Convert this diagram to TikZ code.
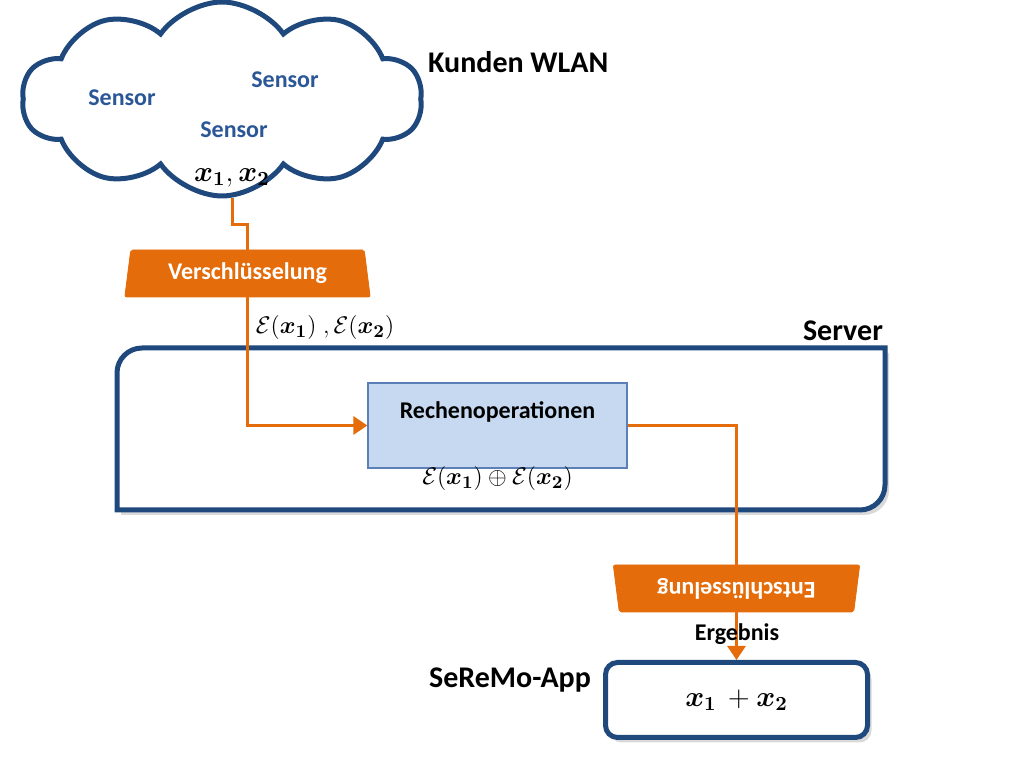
\documentclass[tikz,border=0pt]{standalone}
\usepackage{fontspec}
\setmainfont{Carlito}
\usepackage{amsmath}
\usepackage{bm}
\usepackage{xcolor}
\usetikzlibrary{arrows.meta, shapes.symbols, shapes.geometric, shadows, backgrounds}

\definecolor{wlanblue}{HTML}{1F497D}
\definecolor{sensorblue}{HTML}{2B5797}
\definecolor{cryptorange}{HTML}{E46C0A}
\definecolor{opfill}{HTML}{C6D9F1}
\definecolor{opdraw}{HTML}{5B80B8}

\tikzset{
	lbl/.style = {font = \bfseries\fontsize{15}{18}\selectfont},
	sensor/.style = {font = \bfseries\fontsize{12}{14}\selectfont, text = sensorblue},
	crypt/.style = {trapezium, trapezium stretches = true, trapezium angle = 79,
		minimum width = 123.5pt, minimum height = 23.5pt, inner sep = 0pt,
		fill = cryptorange, draw = cryptorange, rounded corners = 1pt,
		text = white, font = \bfseries\fontsize{12}{14}\selectfont},
	flow/.style = {draw = cryptorange, line width = 1.5pt},
	tip/.style = {-{Triangle[length = 7pt, width = 9pt]}},
	boxshade/.style = {drop shadow = {opacity = 0.3, shadow xshift = 2pt, shadow yshift = -2.5pt}}
}

\begin{document}
\begin{tikzpicture}[x = 0.5pt, y = 0.5pt]
	\useasboundingbox (0,0) rectangle (1024,760);
	\tikzstyle{every node} = [font = \fontsize{13}{15}\selectfont]

	% cloud with the sensors
	\node[cloud, cloud puffs = 10, cloud puff arc = 110, aspect = 2.1,
		draw = wlanblue, line width = 2.5pt, fill = white,
		minimum width = 200pt, minimum height = 97pt] (wlan) at (222,661) {};
	\node[sensor] (s1) at (122,662) {Sensor};
	\node[sensor] (s2) at (285,680) {Sensor};
	\node[sensor] (s3) at (234,630) {Sensor};
	\node[font = \fontsize{14}{16}\selectfont] (xs) at (232,582) {$\bm{x_1}, \bm{x_2}$};
	\node[lbl, anchor = west] (wlanlbl) at (421,698) {Kunden WLAN};

	% server
	\node[lbl] (srvlbl) at (843,429) {Server};
	\node[draw = opdraw, line width = 0.6pt, fill = opfill,
		minimum width = 129.5pt, minimum height = 42.5pt] (ops) at (497.5,334.5) {};
	\node[font = \bfseries\fontsize{12}{14}\selectfont] (opslbl) at (497.5,348) {Rechenoperationen};
	\node (sum) at ([yshift = -5pt]ops.south) {$\mathcal{E}(\bm{x_1}) \oplus \mathcal{E}(\bm{x_2})$};

	% encryption and decryption
	\node[crypt] (enc) at (247.5,486.5) {Verschl\"usselung};
	\node (encx) at (325,432) {$\mathcal{E}(\bm{x_1})\;, \mathcal{E}(\bm{x_2})$};
	\node[crypt, rotate = 180] (dec) at (736.5,171.5) {Entschl\"usselung};
	\node[font = \bfseries\fontsize{12}{14}\selectfont] (res) at (737,126) {Ergebnis};

	% app
	\node[draw = wlanblue, line width = 2.5pt, fill = white, rounded corners = 6pt,
		boxshade, font = \fontsize{14}{16}\selectfont,
		minimum width = 131pt, minimum height = 37.5pt] (app) at (736.5,60) {$\bm{x_1}\, + \bm{x_2}$};
	\node[lbl] (applbl) at (510,80) {SeReMo-App};

	\begin{pgfonlayer}{background}
		\path[draw = wlanblue, line width = 2.5pt, fill = white, boxshade]
			(117,250) -- (117,387) arc[start angle = 180, end angle = 90, radius = 12.5pt] --
			(885,412) -- (885,275) arc[start angle = 0, end angle = -90, radius = 12.5pt] -- cycle;
		\path[flow, tip] (wlan.south -| 232,0) -- (232,535) -- (247,535) |- (ops.west);
		\path[flow, tip] (ops.east) -| (app.north);
	\end{pgfonlayer}
\end{tikzpicture}
\end{document}
